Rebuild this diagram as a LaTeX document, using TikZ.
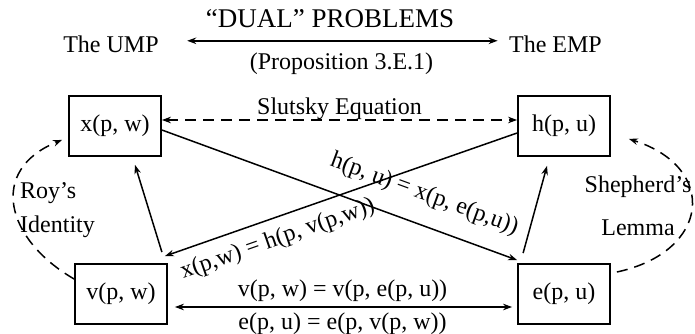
\documentclass[tikz,border=0pt]{standalone}
\usepackage{fontspec}
\setmainfont{Liberation Serif}
\usetikzlibrary{arrows.meta}

\begin{document}
\begin{tikzpicture}[x=1pt, y=1pt,
  every node/.style={font=\fontsize{24}{29}\selectfont},
  fn/.style={rectangle, draw, line width=1.8pt, minimum width=92pt,
             minimum height=60pt},
  arrow/.style={->, line width=1.5pt, >={Stealth[length=9pt,width=6.5pt]}},
  link/.style={arrow, dash pattern=on 11pt off 7pt}
]
  \useasboundingbox (0,0) rectangle (695,334);

  % the two problems
  \node[anchor=base] (ump) at (111,281) {The UMP};
  \node[anchor=base] (emp) at (555.5,281) {The EMP};
  \node[anchor=base, font=\fontsize{27}{32}\selectfont] (dual) at (330,306) {“DUAL” PROBLEMS};
  \node[anchor=base] (prop) at (341.5,264) {(Proposition 3.E.1)};
  \draw[arrow, <->, shorten <=25pt, shorten >=8pt] ([yshift=4pt]ump.east) -- ([yshift=4pt]emp.west);

  % functions
  \node[fn] (xpw) at (115,208) {x(p, w)};
  \node[fn] (vpw) at (121,40) {v(p, w)};
  \node[fn] (hpu) at (564,208) {h(p, u)};
  \node[fn] (epu) at (564,40) {e(p, u)};

  \draw[link, <->] ([yshift=6pt]xpw.east) -- ([yshift=6pt]hpu.west)
    node[midway, above, inner sep=0pt] (slutsky) {Slutsky Equation};

  \draw[arrow] ([yshift=-4pt]xpw.east) -- ([yshift=3pt]epu.north west)
    node[pos=0.71, sloped, above=18pt, inner sep=0pt] (hdual) {h(p, u) = x(p, e(p,u))};
  \draw[arrow] ([yshift=-7pt]hpu.west) -- ([shift={(-3pt,7pt)}]vpw.north east)
    node[pos=0.70, sloped, below=10pt, inner sep=0pt] (xdual) {x(p,w) = h(p, v(p,w))};

  \draw[arrow] ([shift={(-6pt,11pt)}]vpw.north east) -- ([shift={(20pt,-8pt)}]xpw.south);
  \draw[arrow] ([shift={(6pt,10pt)}]epu.north west) -- ([shift={(-17pt,-9pt)}]hpu.south);

  \draw[arrow, <->, shorten <=7pt, shorten >=5pt] ([yshift=-13pt]vpw.east) -- ([yshift=-13pt]epu.west)
    node[midway, above=1pt] (vdual) {v(p, w) = v(p, e(p, u))}
    node[midway, below=2pt] (edual) {e(p, u) = e(p, v(p, w))};

  % identities
  \draw[link] ([yshift=15pt]vpw.west) .. controls +(-69,40) and +(-74,-30) .. ([shift={(-6pt,17pt)}]xpw.south west);
  \node[anchor=west, align=left, inner sep=0pt, font=\fontsize{24}{34}\selectfont] (roy) at (20,124) {Roy’s\\Identity};

  \draw[link] ([shift={(6pt,22pt)}]epu.east) .. controls +(93,20) and +(90,-29) .. ([shift={(18pt,18pt)}]hpu.south east);
  \node[align=center, inner sep=0pt, font=\fontsize{24}{43}\selectfont] (shepherd) at (638,128) {Shepherd’s\\Lemma};
\end{tikzpicture}
\end{document}
